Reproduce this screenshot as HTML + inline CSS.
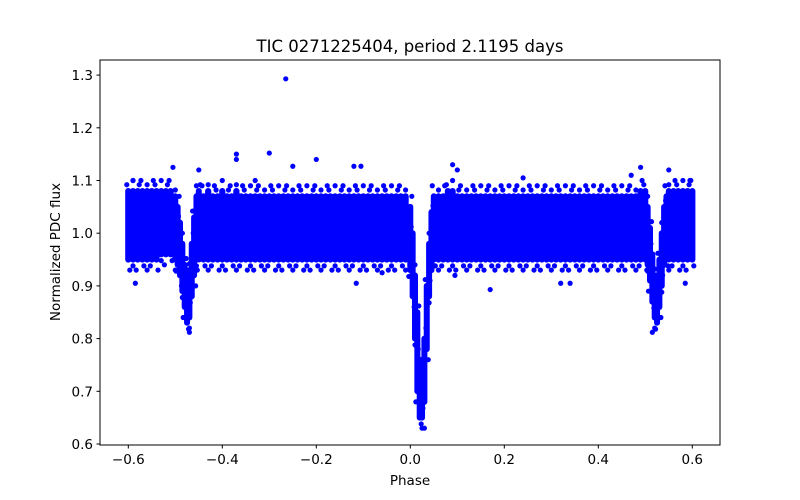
<!DOCTYPE html>
<html><head><meta charset="utf-8"><style>
body{margin:0;background:#fff}
svg{display:block;font-family:"DejaVu Sans","Liberation Sans",sans-serif}
</style></head><body>
<svg id="chart" width="800" height="500" xmlns="http://www.w3.org/2000/svg">
<rect width="800" height="500" fill="#fff"/>
<text x="410" y="52" font-size="16.5" text-anchor="middle" fill="#000">TIC 0271225404, period 2.1195 days</text>
<g id="plot"></g>
<rect x="100" y="60" width="620" height="385" fill="none" stroke="#000" stroke-width="1"/>
<g id="xticks"></g>
<g id="yticks"></g>
<text x="410" y="485" font-size="13.5" text-anchor="middle">Phase</text>
<text transform="translate(60,252) rotate(-90)" font-size="13.5" text-anchor="middle">Normalized PDC flux</text>
</svg>
<script>
// Binned light-curve envelope
const binPhase = [-0.600,-0.590,-0.580,-0.570,-0.560,-0.550,-0.540,-0.530,-0.520,-0.510,-0.500,-0.495,-0.490,-0.485,-0.480,-0.475,-0.470,-0.465,-0.460,-0.455,
-0.450,-0.440,-0.430,-0.420,-0.410,-0.400,-0.390,-0.380,-0.370,-0.360,-0.350,-0.340,-0.330,-0.320,-0.310,-0.300,-0.290,-0.280,-0.270,-0.260,-0.250,-0.240,-0.230,-0.220,-0.210,-0.200,-0.190,-0.180,-0.170,-0.160,-0.150,-0.140,-0.130,-0.120,-0.110,-0.100,-0.090,-0.080,-0.070,-0.060,-0.050,-0.040,-0.030,-0.020,-0.010,
0.000,0.005,0.010,0.015,0.020,0.025,0.030,0.035,0.040,0.045,
0.050,0.060,0.070,0.080,0.090,0.100,0.110,0.120,0.130,0.140,0.150,0.160,0.170,0.180,0.190,0.200,0.210,0.220,0.230,0.240,0.250,0.260,0.270,0.280,0.290,0.300,0.310,0.320,0.330,0.340,0.350,0.360,0.370,0.380,0.390,0.400,0.410,0.420,0.430,0.440,0.450,0.460,0.470,0.480,0.490,0.500,
0.505,0.510,0.515,0.520,0.525,0.530,0.535,0.540,0.545,0.550,0.560,0.570,0.580,0.590,0.600];
const binLow = [0.95,0.95,0.95,0.95,0.95,0.95,0.95,0.96,0.96,0.96,0.95,0.94,0.92,0.89,0.86,0.83,0.84,0.88,0.92,0.95,
0.95,0.95,0.95,0.95,0.95,0.95,0.95,0.95,0.95,0.95,0.95,0.95,0.95,0.95,0.95,0.95,0.95,0.95,0.95,0.95,0.95,0.95,0.95,0.95,0.95,0.95,0.95,0.95,0.95,0.95,0.95,0.95,0.95,0.95,0.95,0.95,0.95,0.95,0.95,0.95,0.95,0.95,0.95,0.95,0.95,
0.93,0.88,0.80,0.70,0.65,0.65,0.68,0.78,0.88,0.93,
0.95,0.95,0.95,0.95,0.95,0.95,0.95,0.95,0.95,0.95,0.95,0.95,0.95,0.95,0.95,0.95,0.95,0.95,0.95,0.95,0.95,0.95,0.95,0.95,0.95,0.95,0.95,0.95,0.95,0.95,0.95,0.95,0.95,0.95,0.95,0.95,0.95,0.95,0.95,0.95,0.95,0.95,0.95,0.95,0.95,0.95,
0.94,0.91,0.87,0.84,0.83,0.86,0.90,0.94,0.95,0.95,0.95,0.95,0.95,0.95,0.95];
const binHigh = [1.08,1.08,1.08,1.08,1.08,1.08,1.08,1.08,1.08,1.08,1.07,1.05,1.02,0.98,0.94,0.90,0.93,0.98,1.03,1.07,
1.08,1.07,1.08,1.07,1.07,1.08,1.07,1.07,1.08,1.07,1.07,1.07,1.07,1.07,1.07,1.07,1.07,1.07,1.07,1.07,1.07,1.07,1.07,1.07,1.07,1.07,1.07,1.07,1.07,1.07,1.07,1.07,1.07,1.07,1.07,1.07,1.07,1.07,1.07,1.07,1.07,1.07,1.07,1.07,1.07,
1.05,1.00,0.92,0.85,0.76,0.74,0.80,0.90,0.98,1.04,
1.07,1.07,1.07,1.08,1.08,1.07,1.07,1.07,1.07,1.07,1.07,1.07,1.07,1.07,1.07,1.07,1.07,1.07,1.07,1.07,1.07,1.07,1.07,1.07,1.07,1.07,1.07,1.07,1.07,1.07,1.07,1.07,1.07,1.07,1.07,1.07,1.07,1.07,1.07,1.07,1.07,1.07,1.07,1.07,1.08,1.08,
1.05,1.01,0.96,0.92,0.90,0.95,1.00,1.05,1.07,1.08,1.08,1.08,1.08,1.08,1.08];
// Individual outlying points
const outPhase = [-0.265,-0.300,-0.370,-0.370,-0.200,-0.120,-0.105,-0.250,0.090,0.100,0.490,0.550,-0.505,-0.450,-0.470,0.515,0.170,-0.585,0.585,-0.115,0.320,0.340,0.095,0.030,-0.590,0.595,-0.330,0.240,0.470,-0.060];
const outFlux  = [1.293,1.152,1.150,1.140,1.140,1.127,1.127,1.127,1.130,1.120,1.125,1.120,1.125,1.120,0.812,0.812,0.893,0.905,0.905,0.905,0.905,0.905,0.920,0.630,1.100,1.100,1.100,1.105,1.110,0.925];
const xTicks = [-0.6,-0.4,-0.2,0.0,0.2,0.4,0.6];
const xTickLabels = ["\u22120.6","\u22120.4","\u22120.2","0.0","0.2","0.4","0.6"];
const yTicks = [0.6,0.7,0.8,0.9,1.0,1.1,1.2,1.3];
const yTickLabels = ["0.6","0.7","0.8","0.9","1.0","1.1","1.2","1.3"];

const NS="http://www.w3.org/2000/svg";
const xs = v => 410.3 + v*470;
const ys = v => 444 - (v-0.6)*527;
const plot=document.getElementById('plot');
function mk(tag,attrs,parent){const e=document.createElementNS(NS,tag);for(const k in attrs)e.setAttribute(k,attrs[k]);parent.appendChild(e);return e;}

for(let i=0;i<binPhase.length;i++){
  const prev=i>0?binPhase[i-1]:binPhase[i]-0.01, next=i<binPhase.length-1?binPhase[i+1]:binPhase[i]+0.01;
  const w=Math.max(6,(xs(next)-xs(prev))/2+1.5);
  const l=mk('line',{x1:xs(binPhase[i]),x2:xs(binPhase[i]),y1:ys(binLow[i]),y2:ys(binHigh[i]),stroke:'#0000ff','stroke-width':w,'stroke-linecap':'round'},plot);
  
  
  const off=(i%3)-1;
  const c1=mk('circle',{cx:xs(binPhase[i])+off*1.5,cy:ys(binHigh[i]+0.012+(i%2)*0.008),r:2.6,fill:'#0000ff'},plot);
  
  
  const c2=mk('circle',{cx:xs(binPhase[i])-off*1.5,cy:ys(binLow[i]-0.012-((i+1)%2)*0.008),r:2.6,fill:'#0000ff'},plot);
  
  
}
for(let i=0;i<outPhase.length;i++){
  const c=mk('circle',{cx:xs(outPhase[i]),cy:ys(outFlux[i]),r:2.6,fill:'#0000ff'},plot);
  
  
}
const xg=document.getElementById('xticks');
xTicks.forEach((t,i)=>{
  const tl=mk('line',{x1:xs(t),x2:xs(t),y1:445,y2:448.5,stroke:'#000'},xg);
  
  
  const tx=mk('text',{x:xs(t),y:464,'font-size':13.5,'text-anchor':'middle'},xg);
  tx.textContent=xTickLabels[i];
  
  
});
const yg=document.getElementById('yticks');
yTicks.forEach((t,i)=>{
  const tl=mk('line',{x1:96.5,x2:100,y1:ys(t),y2:ys(t),stroke:'#000'},yg);
  
  
  const tx=mk('text',{x:93,y:ys(t)+5,'font-size':13.5,'text-anchor':'end'},yg);
  tx.textContent=yTickLabels[i];
  
  
});
</script>
</body></html>
